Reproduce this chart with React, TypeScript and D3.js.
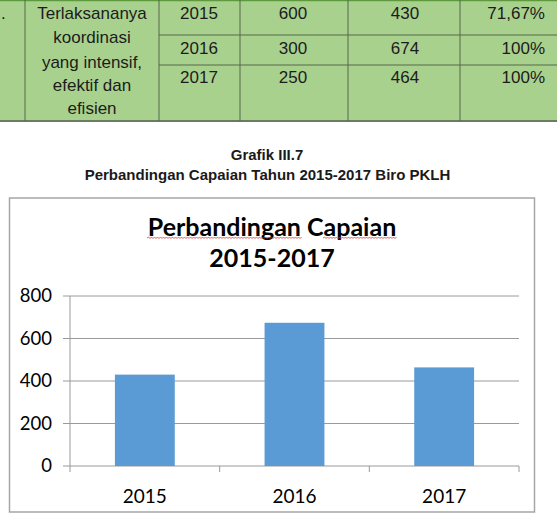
import React from "react";
import * as d3 from "d3";

const categories = ["2015", "2016", "2017"];
const values = [430, 674, 464];
const yTicks = [0, 200, 400, 600, 800];

const tableYears = ["2015", "2016", "2017"];
const tableTarget = ["600", "300", "250"];
const tableReal = ["430", "674", "464"];
const tablePct = ["71,67%", "100%", "100%"];
const tableIndicator = ["Terlaksananya", "koordinasi", "yang intensif,", "efektif dan", "efisien"];

const W = 557;
const H = 516;

export default function App() {
  const x = d3
    .scaleBand<string>()
    .domain(categories)
    .range([70, 519])
    .paddingInner(0.6)
    .paddingOuter(0.3);
  const xAxisBand = d3.scaleBand<string>().domain(categories).range([70, 519]);
  const y = d3.scaleLinear().domain([0, 800]).range([466, 296]);

  const tableFont = "'Liberation Sans', Arial, sans-serif";
  const chartFont = "Lato, 'Open Sans', sans-serif";
  const rowCenters = [13, 48, 77];
  const indCenters = [13, 37, 62, 85, 108];

  const wavy = (x0: number, x1: number, yy: number) => {
    let d = `M${x0},${yy}`;
    let up = true;
    for (let xx = x0 + 1.5; xx <= x1; xx += 1.5) {
      d += ` L${xx},${yy + (up ? -1 : 0.5)}`;
      up = !up;
    }
    return d;
  };

  return (
    <svg
      width={W}
      height={H}
      style={{ position: "absolute", left: 0, top: 0, background: "#fff" }}
    >
      {/* Table */}
      <rect x={0} y={0} width={W} height={121} fill="#a9d18e" />
      <line x1={0} x2={W} y1={0.5} y2={0.5} stroke="#5e9a3d" strokeWidth={1.5} />
      <line x1={0} x2={W} y1={121} y2={121} stroke="#6b7d60" strokeWidth={2} />
      {[25, 159, 240, 348, 460].map((vx) => (
        <line key={vx} x1={vx} x2={vx} y1={0} y2={121} stroke="#55684a" strokeWidth={1} />
      ))}
      {[35, 65].map((hy) => (
        <line key={hy} x1={159} x2={W} y1={hy} y2={hy} stroke="#55684a" strokeWidth={1} />
      ))}
      <g fontFamily={tableFont} fontSize={17} fill="#1c1c1c">
        <text x={1} y={13} dy="0.35em">.</text>
        {tableIndicator.map((t, i) => (
          <text key={t} x={92} y={indCenters[i]} dy="0.35em" textAnchor="middle">
            {t}
          </text>
        ))}
        {tableYears.map((t, i) => (
          <g key={t}>
            <text x={199} y={rowCenters[i]} dy="0.35em" textAnchor="middle">{t}</text>
            <text x={293} y={rowCenters[i]} dy="0.35em" textAnchor="middle">{tableTarget[i]}</text>
            <text x={405} y={rowCenters[i]} dy="0.35em" textAnchor="middle">{tableReal[i]}</text>
            <text x={545} y={rowCenters[i]} dy="0.35em" textAnchor="end">{tablePct[i]}</text>
          </g>
        ))}
      </g>

      {/* Caption */}
      <g fontFamily={tableFont} fontWeight="bold" fill="#1a1a1a" textAnchor="middle">
        <text x={267} y={155} dy="0.35em" fontSize={15}>Grafik III.7</text>
        <text x={267.5} y={175} dy="0.35em" fontSize={15}>
          Perbandingan Capaian Tahun 2015-2017 Biro PKLH
        </text>
      </g>

      {/* Chart box */}
      <rect x={9.5} y={198} width={525} height={314} fill="#fff" stroke="#a6a6a6" strokeWidth={1.5} />

      <g fontFamily={chartFont} fontWeight="bold" fill="#000" textAnchor="middle" fontSize={25}>
        <text x={272} y={227} dy="0.35em">Perbandingan Capaian</text>
        <text x={272} y={258} dy="0.35em">2015-2017</text>
      </g>
      <path d={wavy(147, 302, 238)} fill="none" stroke="#e03030" strokeWidth={0.8} />
      <path d={wavy(323, 397, 238)} fill="none" stroke="#e03030" strokeWidth={0.8} />

      {/* Gridlines */}
      {yTicks.map((t) => (
        <g key={t}>
          <line x1={63} x2={519} y1={y(t)} y2={y(t)} stroke="#9a9a9a" strokeWidth={1} />
          <text
            x={52}
            y={y(t)}
            dy="0.35em"
            textAnchor="end"
            fontFamily={chartFont}
            fontSize={18.5}
            fill="#000"
          >
            {t}
          </text>
        </g>
      ))}
      <line x1={70} x2={70} y1={y(800)} y2={y(0) + 6} stroke="#9a9a9a" strokeWidth={1} />
      {categories.map((c) => (
        <line
          key={c}
          x1={(xAxisBand(c) as number) + xAxisBand.bandwidth()}
          x2={(xAxisBand(c) as number) + xAxisBand.bandwidth()}
          y1={y(0)}
          y2={y(0) + 6}
          stroke="#9a9a9a"
          strokeWidth={1}
        />
      ))}

      {/* Bars */}
      {categories.map((c, i) => (
        <rect
          key={c}
          x={x(c)}
          y={y(values[i])}
          width={x.bandwidth()}
          height={y(0) - y(values[i])}
          fill="#5b9bd5"
        />
      ))}

      {categories.map((c) => (
        <text
          key={c}
          x={(xAxisBand(c) as number) + xAxisBand.bandwidth() / 2}
          y={496}
          dy="0.35em"
          textAnchor="middle"
          fontFamily={chartFont}
          fontSize={19}
          fill="#000"
        >
          {c}
        </text>
      ))}
    </svg>
  );
}
